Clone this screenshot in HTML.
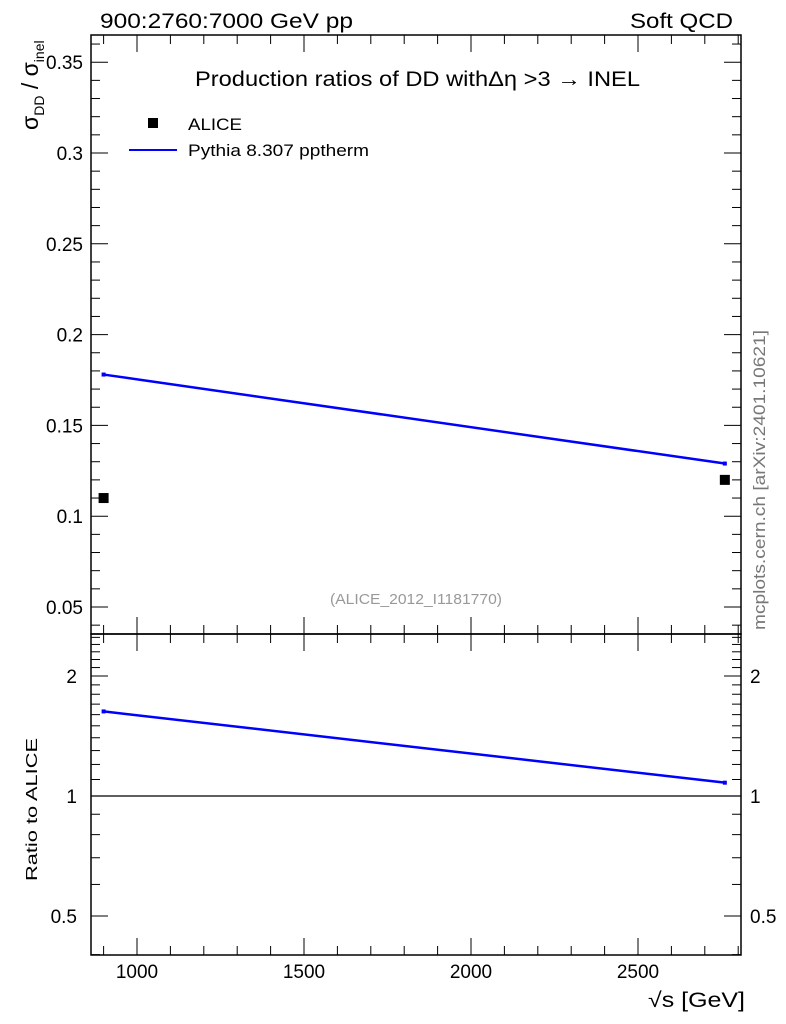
<!DOCTYPE html>
<html><head><meta charset="utf-8"><style>
body{margin:0;background:#fff;}
svg{display:block;font-family:"Liberation Sans",Arial,sans-serif;}
</style></head><body>
<svg id="c" width="786" height="1024" viewBox="0 0 786 1024">
<text x="100" y="28" font-size="21" textLength="253" lengthAdjust="spacingAndGlyphs">900:2760:7000 GeV pp</text>
<text x="630" y="28" font-size="21" textLength="103" lengthAdjust="spacingAndGlyphs">Soft QCD</text>
<text x="195" y="86" font-size="21" textLength="445" lengthAdjust="spacingAndGlyphs">Production ratios of DD withΔη &gt;3 → INEL</text>
<rect x="148" y="118" width="10" height="10" fill="#000"/>
<text x="188" y="130" font-size="17" textLength="54" lengthAdjust="spacingAndGlyphs">ALICE</text>
<line x1="129" y1="150" x2="177" y2="150" stroke="#0000ff" stroke-width="2"/>
<text x="188" y="156" font-size="17" textLength="181" lengthAdjust="spacingAndGlyphs">Pythia 8.307 pptherm</text>
<text x="330" y="604" font-size="15" fill="#999" textLength="172" lengthAdjust="spacingAndGlyphs">(ALICE_2012_I1181770)</text>
<text transform="translate(765,630) rotate(-90)" font-size="17" fill="#777" textLength="300" lengthAdjust="spacingAndGlyphs">mcplots.cern.ch [arXiv:2401.10621]</text>
<g transform="translate(38,130) rotate(-90)">
<text x="0" y="0" font-size="23">σ<tspan font-size="14" dy="6">DD</tspan><tspan font-size="23" dy="-6"> / σ</tspan><tspan font-size="14" dy="6">inel</tspan></text></g>
<text transform="translate(37,881) rotate(-90)" font-size="16" textLength="143" lengthAdjust="spacingAndGlyphs">Ratio to ALICE</text>
<text x="648" y="1007" font-size="21" textLength="97" lengthAdjust="spacingAndGlyphs">√s [GeV]</text>
<g id="g"></g>
</svg>
<script>
const xCats=[900,2760];
const aliceVals=[0.11,0.12];
const pythiaVals=[0.178,0.129];
const ratioVals=[1.63,1.08];
const mainTicks=[0.05,0.1,0.15,0.2,0.25,0.3,0.35];
const mainTickLabels=["0.05","0.1","0.15","0.2","0.25","0.3","0.35"];
const ratioTicks=[0.5,1,2];
const ratioTickLabels=["0.5","1","2"];
const xTicks=[1000,1500,2000,2500];
const xTickLabels=["1000","1500","2000","2500"];

const L=91,R=741,T=35,M=634,B=955;
const X=v=>137+(v-1000)*167/500;
const Y=v=>607-(v-0.05)*1816;
const YR=v=>796-Math.log2(v)*120;
const NS="http://www.w3.org/2000/svg";
const g=document.getElementById('g');
function mk(t,a){const e=document.createElementNS(NS,t);for(const k in a)e.setAttribute(k,a[k]);g.appendChild(e);return e;}
function ln(x1,y1,x2,y2,w,c){return mk('line',{x1,y1,x2,y2,stroke:c||'#000','stroke-width':w||1});}

let e;
e=mk('rect',{x:L,y:T,width:R-L,height:M-T,fill:'none',stroke:'#000','stroke-width':1.5});


e=mk('rect',{x:L,y:M,width:R-L,height:B-M,fill:'none',stroke:'#000','stroke-width':1.5});



for(let v=900;v<=2800;v+=100){const x=X(v);if(x<L||x>R)continue;const maj=v%500===0;const s=maj?17:9;
 ln(x,T,x,T+s);ln(x,M-s,x,M+s);ln(x,B,x,B-s);}
xTicks.forEach((v,i)=>{e=mk('text',{x:X(v),y:978,'font-size':19,'text-anchor':'middle'});e.textContent=xTickLabels[i];

});
for(let k=4;k<=36;k++){const v=k/100;const y=Y(v);if(y<T||y>M)continue;const maj=k%5===0;const s=maj?17:9;ln(L,y,L+s,y);ln(R,y,R-s,y);}
mainTicks.forEach((v,i)=>{e=mk('text',{x:83,y:Y(v)+7,'font-size':19,'text-anchor':'end'});e.textContent=mainTickLabels[i];

});
for(let k=4;k<=25;k++){const v=k/10;const y=YR(v);if(y<M||y>B)continue;const maj=(k===5||k===10||k===20);const s=maj?17:9;ln(L,y,L+s,y);ln(R,y,R-s,y);}
ratioTicks.forEach((v,i)=>{e=mk('text',{x:77,y:YR(v)+7,'font-size':19,'text-anchor':'end'});e.textContent=ratioTickLabels[i];


e=mk('text',{x:750,y:YR(v)+7,'font-size':19});e.textContent=ratioTickLabels[i];

});
ln(L,YR(1),R,YR(1),1.2);

e=mk('polyline',{points:xCats.map((v,i)=>X(v)+','+Y(pythiaVals[i])).join(' '),fill:'none',stroke:'#0000ff','stroke-width':2.5});


xCats.forEach((v,i)=>{e=mk('rect',{x:X(v)-2,y:Y(pythiaVals[i])-2,width:4,height:4,fill:'#0000ff'});

});
e=mk('polyline',{points:xCats.map((v,i)=>X(v)+','+YR(ratioVals[i])).join(' '),fill:'none',stroke:'#0000ff','stroke-width':2.5});


xCats.forEach((v,i)=>{e=mk('rect',{x:X(v)-2,y:YR(ratioVals[i])-2,width:4,height:4,fill:'#0000ff'});

});
xCats.forEach((v,i)=>{e=mk('rect',{x:X(v)-5,y:Y(aliceVals[i])-5,width:10,height:10,fill:'#000'});

});
</script>
</body></html>
